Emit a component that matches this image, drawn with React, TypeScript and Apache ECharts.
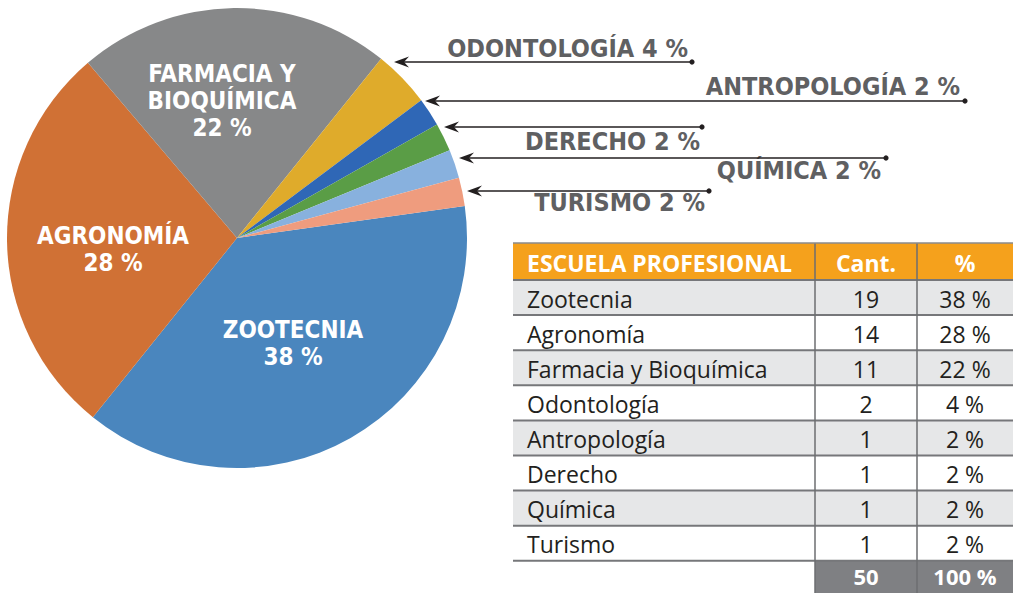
import React, { useEffect, useRef } from "react";
import * as echarts from "echarts";

const schools = ["Zootecnia", "Agronomía", "Farmacia y Bioquímica", "Odontología", "Antropología", "Derecho", "Química", "Turismo"];
const counts = [19, 14, 11, 2, 1, 1, 1, 1];
const percents = [38, 28, 22, 4, 2, 2, 2, 2];
const colors = ["#4a86be", "#d07135", "#878889", "#dfab2b", "#2f67b6", "#5a9d46", "#88b1de", "#ef9c7e"];
const headers = ["ESCUELA PROFESIONAL", "Cant.", "%"];
const totalCount = 50;
const totalPercent = 100;

// inside label placement (center of text block) for the three big slices
const insideLabelPos: Array<[number, number] | null> = [[293, 343], [113, 249], [222, 101], null, null, null, null, null];
// callout placement: [textRightX, textBaselineY, arrowTipX, lineY, dotX]
const callouts: Array<[number, number, number, number, number] | null> = [
  null, null, null,
  [688, 61, 394, 62, 692],
  [960, 99, 425, 101, 965],
  [700, 154, 444, 127, 702],
  [881, 183, 459, 158, 886],
  [705, 215, 467, 191, 709],
];

export default function App() {
  const ref = useRef<HTMLDivElement>(null);
  useEffect(() => {
    document.body.style.margin = "0";
    const chart = echarts.init(ref.current!, null, { renderer: "svg" });
    const graphics: any[] = [];
    const labelFont = "'DejaVu Sans Condensed', 'DejaVu Sans', sans-serif";
    const tableFont = "'Open Sans', 'Noto Sans', sans-serif";

    schools.forEach((s, i) => {
      const p = insideLabelPos[i];
      if (p) {
        const txt = s.toUpperCase().replace(" Y ", " Y\n") + "\n" + percents[i] + " %";
        graphics.push({
          type: "text", x: p[0], y: p[1], z: 10,
          style: { text: txt, fill: "#ffffff", font: `bold 24px ${labelFont}`, align: "center", verticalAlign: "middle", lineHeight: 27 },
        });
      }
      const c = callouts[i];
      if (c) {
        const [tx, ty, ax, ly, dx] = c;
        graphics.push({
          type: "text", x: tx, y: ty, z: 10,
          style: { text: `${s.toUpperCase()} ${percents[i]} %`, fill: "#5f6062", font: `bold 25px ${labelFont}`, align: "right", verticalAlign: "bottom" },
        });
        graphics.push({ type: "line", z: 10, shape: { x1: ax + 8, y1: ly, x2: dx, y2: ly }, style: { stroke: "#231f20", lineWidth: 1.5 } });
        graphics.push({ type: "polygon", z: 11, shape: { points: [[ax, ly], [ax + 15, ly - 5.5], [ax + 10, ly], [ax + 15, ly + 5.5]] }, style: { fill: "#231f20" } });
        graphics.push({ type: "circle", z: 11, shape: { cx: dx, cy: ly, r: 2.6 }, style: { fill: "#231f20" } });
      }
    });

    // table
    const tl = 513, tr = 1013, c1 = 815, c2 = 917;
    const hTop = 243, hBot = 280, rowH = 35.1;
    graphics.push({ type: "rect", shape: { x: tl, y: hTop, width: tr - tl, height: hBot - hTop }, style: { fill: "#f5a11c" } });
    const colCenters = [0, (c1 + c2) / 2, (c2 + tr) / 2];
    headers.forEach((h, j) => {
      graphics.push({
        type: "text", x: j === 0 ? 527 : colCenters[j], y: (hTop + hBot) / 2 + 1, z: 5,
        style: { text: h, fill: "#ffffff", font: `bold 23px ${tableFont}`, align: j === 0 ? "left" : "center", verticalAlign: "middle" },
      });
    });
    schools.forEach((s, i) => {
      const y0 = hBot + i * rowH;
      graphics.push({ type: "rect", shape: { x: tl, y: y0, width: tr - tl, height: rowH }, style: { fill: i % 2 === 0 ? "#e6e7e8" : "#ffffff" } });
      graphics.push({ type: "text", x: 527, y: y0 + rowH / 2 + 1, z: 5, style: { text: s, fill: "#231f20", font: `23px ${tableFont}`, align: "left", verticalAlign: "middle" } });
      graphics.push({ type: "text", x: colCenters[1], y: y0 + rowH / 2 + 1, z: 5, style: { text: String(counts[i]), fill: "#231f20", font: `23px ${tableFont}`, align: "center", verticalAlign: "middle" } });
      graphics.push({ type: "text", x: colCenters[2], y: y0 + rowH / 2 + 1, z: 5, style: { text: `${percents[i]} %`, fill: "#231f20", font: `23px ${tableFont}`, align: "center", verticalAlign: "middle" } });
    });
    const tBot = hBot + schools.length * rowH;
    graphics.push({ type: "rect", shape: { x: c1, y: tBot, width: tr - c1, height: 593 - tBot }, style: { fill: "#7f8083" } });
    graphics.push({ type: "text", x: colCenters[1], y: tBot + 15, z: 5, style: { text: String(totalCount), fill: "#ffffff", font: `bold 22px ${tableFont}`, align: "center", verticalAlign: "middle" } });
    graphics.push({ type: "text", x: colCenters[2], y: tBot + 15, z: 5, style: { text: `${totalPercent} %`, fill: "#ffffff", font: `bold 22px ${tableFont}`, align: "center", verticalAlign: "middle" } });
    for (let i = 0; i <= schools.length; i++) {
      const y = hBot + i * rowH;
      graphics.push({ type: "line", z: 4, shape: { x1: tl, y1: y, x2: tr, y2: y }, style: { stroke: "#76777a", lineWidth: 2 } });
    }
    [c1, c2].forEach((x) => {
      graphics.push({ type: "line", z: 4, shape: { x1: x, y1: hTop, x2: x, y2: 593 }, style: { stroke: "#6d6e71", lineWidth: 1.5 } });
    });
    graphics.push({ type: "line", z: 4, shape: { x1: tl, y1: hTop, x2: tr, y2: hTop }, style: { stroke: "#8a8b8d", lineWidth: 1.5 } });

    chart.setOption({
      animation: false,
      series: [
        {
          type: "pie",
          center: [237, 238],
          radius: 230,
          startAngle: 8,
          clockwise: true,
          label: { show: false },
          labelLine: { show: false },
          itemStyle: { borderWidth: 0 },
          emphasis: { disabled: true },
          data: schools.map((s, i) => ({ name: s, value: counts[i], itemStyle: { color: colors[i] } })),
        },
      ],
      graphic: graphics,
    });
    return () => chart.dispose();
  }, []);
  return <div ref={ref} style={{ width: 1013, height: 593 }} />;
}
